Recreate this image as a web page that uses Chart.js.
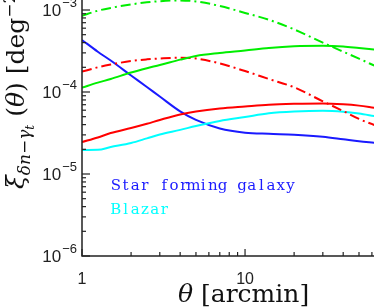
<!DOCTYPE html>
<html><head><meta charset="utf-8">
<script src="https://cdn.jsdelivr.net/npm/chart.js@4"></script>
<style>html,body{margin:0;padding:0;background:#fff}#wrap{width:374px;height:308px;position:relative}</style>
</head><body><div id="wrap"><canvas id="c" width="374" height="308"></canvas></div>
<script>
// angular separation (arcmin)
const THETA = [1, 1.25, 1.5, 2, 2.5, 3, 4, 5, 7, 10, 14, 20, 30, 40, 50, 62];
// series values (deg^-2)
const GREEN_DASHDOT = [8.5e-4, 9.8e-4, 1.06e-3, 1.17e-3, 1.24e-3, 1.28e-3, 1.31e-3, 1.27e-3, 1.12e-3, 9.2e-4, 7.6e-4, 5.8e-4, 4.0e-4, 3.1e-4, 2.55e-4, 2.1e-4];
const GREEN_SOLID   = [1.13e-4, 1.3e-4, 1.44e-4, 1.73e-4, 1.95e-4, 2.13e-4, 2.48e-4, 2.75e-4, 2.99e-4, 3.21e-4, 3.45e-4, 3.62e-4, 3.67e-4, 3.59e-4, 3.44e-4, 3.3e-4];
const RED_DASHDOT   = [1.77e-4, 2.0e-4, 2.16e-4, 2.39e-4, 2.5e-4, 2.56e-4, 2.62e-4, 2.56e-4, 2.23e-4, 1.8e-4, 1.44e-4, 1.14e-4, 7.7e-5, 5.86e-5, 4.69e-5, 3.96e-5];
const RED_SOLID     = [2.45e-5, 2.79e-5, 3.16e-5, 3.64e-5, 4.1e-5, 4.56e-5, 5.32e-5, 5.78e-5, 6.29e-5, 6.66e-5, 7.0e-5, 7.17e-5, 7.25e-5, 7.08e-5, 6.82e-5, 6.44e-5];
const CYAN_BLAZAR   = [1.96e-5, 1.97e-5, 2.13e-5, 2.39e-5, 2.72e-5, 3.03e-5, 3.45e-5, 3.85e-5, 4.43e-5, 4.95e-5, 5.5e-5, 5.79e-5, 5.92e-5, 5.76e-5, 5.47e-5, 5.09e-5];
const BLUE_SFG      = [4.31e-4, 3.1e-4, 2.42e-4, 1.59e-4, 1.15e-4, 8.8e-5, 5.8e-5, 4.56e-5, 3.59e-5, 3.19e-5, 3.09e-5, 3.02e-5, 2.85e-5, 2.65e-5, 2.5e-5, 2.41e-5];
// tick labels
const X_TICKS = [1, 10];
const Y_EXPONENTS = [-6, -5, -4, -3];
const LEGEND = [["Star forming galaxy", "#1a1aff"], ["Blazar", "#00ffff"]];

const mk = vals => THETA.map((t, i) => ({x: t, y: vals[i]}));
const DD = [10, 4, 2, 4];
const base = {pointRadius: 0, borderWidth: 2, fill: false, cubicInterpolationMode: 'monotone'};

const axisPlugin = {
  id: 'axisPlugin',
  afterDraw(chart) {
    const ctx = chart.ctx, a = chart.chartArea, xs = chart.scales.x, ys = chart.scales.y;
    ctx.save();
    ctx.strokeStyle = '#222'; ctx.lineWidth = 1.5;
    ctx.beginPath();
    ctx.moveTo(a.left, a.top); ctx.lineTo(a.left, a.bottom); ctx.lineTo(a.right, a.bottom);
    ctx.stroke();
    ctx.lineWidth = 1.2;
    // x ticks (inward)
    for (let d = 1; d <= 10; d *= 10) for (let k = 1; k <= 9; k++) {
      const v = k * d; if (v > xs.max) continue;
      const px = xs.getPixelForValue(v);
      const len = k === 1 ? 7 : 4;
      ctx.beginPath(); ctx.moveTo(px, a.bottom); ctx.lineTo(px, a.bottom - len); ctx.stroke();
    }
    // y ticks (inward)
    for (let e = -6; e <= -3; e++) for (let k = 1; k <= 9; k++) {
      const v = k * Math.pow(10, e); if (v > ys.max) continue;
      const py = ys.getPixelForValue(v);
      const len = k === 1 ? 8 : 4;
      ctx.beginPath(); ctx.moveTo(a.left, py); ctx.lineTo(a.left + len, py); ctx.stroke();
    }
    // y tick labels 10^e
    ctx.fillStyle = '#222';
    Y_EXPONENTS.forEach(e => {
      const py = ys.getPixelForValue(Math.pow(10, e));
      ctx.font = '13px "Liberation Sans"';
      const sup = '\u2212' + Math.abs(e);
      const sw = ctx.measureText(sup).width;
      ctx.textAlign = 'left'; ctx.textBaseline = 'alphabetic';
      const right = a.left - 5;
      ctx.fillText(sup, right - sw, py - 3);
      ctx.font = '17px "Liberation Sans"';
      const bw = ctx.measureText('10').width;
      ctx.textBaseline = 'middle';
      ctx.fillText('10', right - sw - bw - 1, py + 1);
    });
    // x title
    ctx.fillStyle = '#111';
    ctx.textBaseline = 'alphabetic'; ctx.textAlign = 'left';
    let x = 178;
    ctx.font = 'italic 25px "DejaVu Serif"'; ctx.fillText('\u03b8', x, 302); x += ctx.measureText('\u03b8').width;
    ctx.font = '25px "DejaVu Serif"'; ctx.fillText(' [arcmin]', x, 302);
    // y title (rotated)
    ctx.save();
    ctx.translate(24, 189); ctx.rotate(-Math.PI / 2);
    let u = 0;
    const run = (txt, font, off) => { ctx.font = font; ctx.fillText(txt, u, off); u += ctx.measureText(txt).width; };
    run('\u03be', 'italic 25px "DejaVu Serif"', 0);
    run('\u03b4n\u2212\u03b3', 'italic 17px "DejaVu Serif"', 6);
    run('t', 'italic 12px "DejaVu Serif"', 10);
    run(' (', '25px "DejaVu Serif"', 0);
    run('\u03b8', 'italic 25px "DejaVu Serif"', 0);
    run(') [deg', '25px "DejaVu Serif"', 0);
    run('\u22122', '17px "DejaVu Serif"', -9);
    run(']', '25px "DejaVu Serif"', 0);
    ctx.restore();
    // legend text (monospaced cells)
    const cell = 9.7;
    LEGEND.forEach(([txt, col], i) => {
      ctx.fillStyle = col; ctx.font = '15px "DejaVu Serif"'; ctx.textBaseline = 'middle'; ctx.textAlign = 'center';
      const y = 186 + i * 24;
      [...txt].forEach((ch, j) => ctx.fillText(ch, 111 + cell * j + cell / 2, y));
    });
    ctx.restore();
  }
};

new Chart(document.getElementById('c'), {
  type: 'line',
  data: {datasets: [
    Object.assign({data: mk(GREEN_DASHDOT), borderColor: '#00ee00', borderDash: DD}, base),
    Object.assign({data: mk(GREEN_SOLID), borderColor: '#00ee00'}, base),
    Object.assign({data: mk(RED_DASHDOT), borderColor: '#ff0000', borderDash: DD}, base),
    Object.assign({data: mk(RED_SOLID), borderColor: '#ff0000'}, base),
    Object.assign({data: mk(CYAN_BLAZAR), borderColor: '#00ffff'}, base),
    Object.assign({data: mk(BLUE_SFG), borderColor: '#1a1aff'}, base)
  ]},
  options: {
    responsive: false, animation: false, devicePixelRatio: 1,
    layout: {padding: 0},
    plugins: {legend: {display: false}, tooltip: {enabled: false}},
    scales: {
      x: {type: 'logarithmic', min: 1, max: 61.8,
        grid: {display: false}, border: {display: false},
        afterBuildTicks: s => { s.ticks = X_TICKS.map(v => ({value: v})); },
        afterFit: s => { s.height = 52; },
        ticks: {font: {family: 'Liberation Sans', size: 16}, color: '#222', padding: 6, maxRotation: 0, autoSkip: false,
          callback: v => String(v)}},
      y: {type: 'logarithmic', min: 1e-6, max: 1.324e-3,
        grid: {display: false}, border: {display: false},
        ticks: {display: false},
        afterFit: s => { s.width = 82; }}
    }
  },
  plugins: [axisPlugin]
});
</script></body></html>
